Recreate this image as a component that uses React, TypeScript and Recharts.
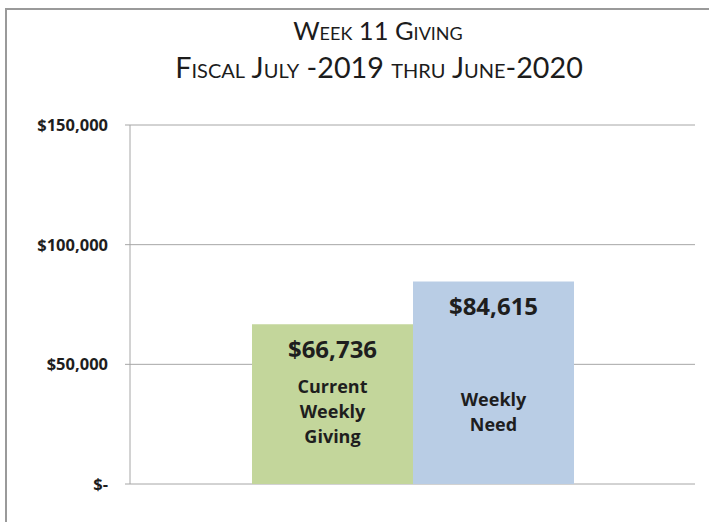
import React from "react";
import { BarChart, Bar, XAxis, YAxis, CartesianGrid, LabelList } from "recharts";

const categories = ["Week 11"];
const seriesNames = ["Current Weekly Giving", "Weekly Need"];
const givingValues = [66736];
const needValues = [84615];
const yTicks = [0, 50000, 100000, 150000];
const titleLines = ["Week 11 Giving", "Fiscal July -2019 thru June-2020"];

const data = categories.map((c, i) => ({
  category: c,
  giving: givingValues[i],
  need: needValues[i],
}));

const LABEL_FONT = "'Open Sans', 'DejaVu Sans', sans-serif";
const TITLE_FONT = "Lato, 'Open Sans', sans-serif";

const fmtMoney = (v: number) => (v === 0 ? "$-" : "$" + v.toLocaleString("en-US"));

function makeLabel(name: string) {
  const lines = name.split(" ");
  return (props: any) => {
    const { x, y, width, height, value } = props;
    const cx = Number(x) + Number(width) / 2;
    const bottom = Number(y) + Number(height);
    const mid = bottom - 66;
    const start = mid - ((lines.length - 1) * 25) / 2;
    return (
      <g>
        <text x={cx} y={Number(y) + 34} textAnchor="middle" fontFamily={LABEL_FONT} fontSize={24} fontWeight={700} fill="#1e1e1e">
          {fmtMoney(Number(value))}
        </text>
        {lines.map((l, i) => (
          <text key={i} x={cx} y={start + i * 25} textAnchor="middle" fontFamily={LABEL_FONT} fontSize={18} fontWeight={700} fill="#1e1e1e">
            {l}
          </text>
        ))}
      </g>
    );
  };
}

export default function App() {
  return (
    <div style={{ position: "absolute", left: 0, top: 0, width: 709, height: 522, overflow: "hidden", background: "#ffffff" }}>
      <div style={{ position: "absolute", left: 5, top: 8, width: 800, height: 600, border: "2px solid #9a9a9a", boxSizing: "border-box" }} />
      <svg width={709} height={100} style={{ position: "absolute", left: 0, top: 0 }}>
        <text x={378} y={40} textAnchor="middle" fontFamily={TITLE_FONT} fontSize={25.5} fill="#1c1c1c" style={{ fontVariant: "small-caps" }}>
          {titleLines[0]}
        </text>
        <text x={379} y={78} textAnchor="middle" fontFamily={TITLE_FONT} fontSize={28.7} fill="#1c1c1c" style={{ fontVariant: "small-caps" }}>
          {titleLines[1]}
        </text>
      </svg>
      <div style={{ position: "absolute", left: 0, top: 0 }}>
        <BarChart width={709} height={522} data={data} margin={{ top: 125, right: 14, bottom: 38, left: 30 }} barGap={0}>
          <CartesianGrid vertical={false} stroke="#a6a6a6" />
          <XAxis dataKey="category" tick={false} tickLine={false} axisLine={{ stroke: "#8c8c8c" }} height={0} />
          <YAxis
            width={100}
            domain={[0, 150000]}
            ticks={yTicks}
            tickFormatter={fmtMoney}
            tickSize={5}
            tickMargin={17}
            axisLine={{ stroke: "#a6a6a6" }}
            tickLine={{ stroke: "#a6a6a6" }}
            tick={{ fontFamily: LABEL_FONT, fontSize: 16.5, fontWeight: 700, fill: "#1e1e1e" }}
          />
          <Bar dataKey="giving" name={seriesNames[0]} fill="#c3d69b" barSize={161} isAnimationActive={false}>
            <LabelList dataKey="giving" content={makeLabel(seriesNames[0])} />
          </Bar>
          <Bar dataKey="need" name={seriesNames[1]} fill="#b9cde5" barSize={161} isAnimationActive={false}>
            <LabelList dataKey="need" content={makeLabel(seriesNames[1])} />
          </Bar>
        </BarChart>
      </div>
    </div>
  );
}
